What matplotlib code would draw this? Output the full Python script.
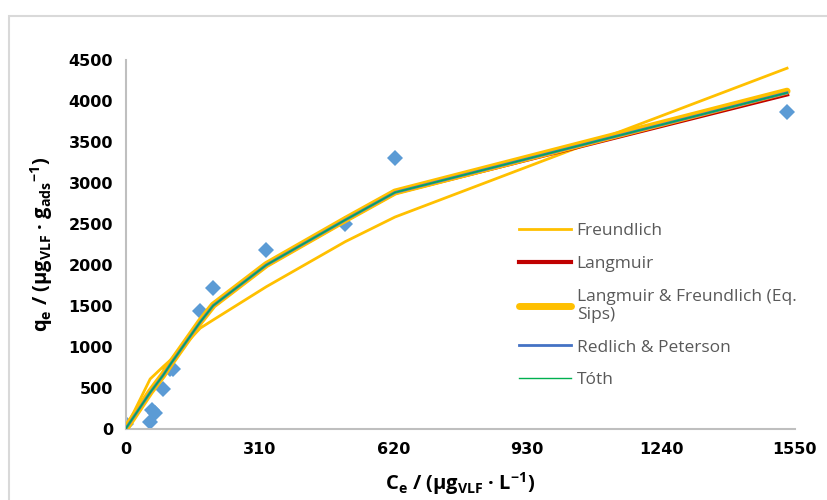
import numpy as np
import matplotlib.pyplot as plt
from matplotlib.patches import Rectangle

plt.rcParams['font.family'] = ['Open Sans', 'DejaVu Sans']
plt.rcParams['mathtext.default'] = 'regular'

# experimental points
ce_exp = [0, 57, 61, 68, 87, 103, 110, 173, 203, 326, 509, 624, 1532]
qe_exp = [60, 85, 230, 190, 490, 735, 735, 1440, 1720, 2180, 2500, 3300, 3860]

# model curves
ce_fit = [0, 57, 87, 106, 173, 203, 326, 509, 624, 1532]
q_freundlich = [0, 610, 760, 850, 1230, 1330, 1735, 2285, 2585, 4400]
q_langmuir = [0, 440, 650, 800, 1300, 1500, 1995, 2545, 2880, 4080]
q_sips = [0, 450, 660, 810, 1310, 1510, 2005, 2555, 2890, 4120]
q_redlich = [0, 445, 655, 805, 1305, 1505, 2000, 2550, 2885, 4100]
q_toth = [0, 445, 655, 805, 1305, 1505, 2000, 2550, 2885, 4100]

fig = plt.figure(figsize=(8.27, 5.0), dpi=100, facecolor='w')
ax = fig.add_axes([0.1518, 0.142, 0.8093, 0.738])

# chart-area border
fig.patches.append(Rectangle((9/827, -0.2), 1.2, 1.2 - 16/500,
                             transform=fig.transFigure, fill=False,
                             edgecolor='#d9d9d9', linewidth=1.5))

ax.plot(ce_exp, qe_exp, 'D', color='#5b9bd5', markersize=8, markeredgewidth=0, zorder=2)
ax.plot(ce_fit, q_freundlich, color='#ffc000', lw=2, label='Freundlich', zorder=3)
ax.plot(ce_fit, q_langmuir, color='#c00000', lw=3, label='Langmuir', zorder=3)
ax.plot(ce_fit, q_sips, color='#ffc000', lw=5, solid_capstyle='round',
        label='Langmuir & Freundlich (Eq.\nSips)', zorder=4)
ax.plot(ce_fit, q_redlich, color='#4472c4', lw=2, label='Redlich & Peterson', zorder=5)
ax.plot(ce_fit, q_toth, color='#00b050', lw=1, label='Tóth', zorder=6)

ax.set_xlim(0, 1550)
ax.set_ylim(0, 4500)
ax.set_xticks(np.arange(0, 1551, 310))
ax.set_yticks(np.arange(0, 4501, 500))
ax.tick_params(length=0, labelsize=11.5, pad=9)
for lab in ax.get_xticklabels() + ax.get_yticklabels():
    lab.set_fontweight('bold')
    lab.set_family('DejaVu Sans')

for s in ['top', 'right']:
    ax.spines[s].set_visible(False)
for s in ['left', 'bottom']:
    ax.spines[s].set_color('#bfbfbf')
    ax.spines[s].set_linewidth(1.5)

ax.set_xlabel(r'C$_{e}$ / (μg$_{VLF}$ · L$^{-1}$)', fontsize=14.5, fontweight='bold', labelpad=10)
ax.set_ylabel(r'q$_{e}$ / (μg$_{VLF}$ · g$_{ads}$$^{-1}$)', fontsize=14.5, fontweight='bold', labelpad=10)

leg = ax.legend(loc='upper left', bbox_to_anchor=(0.565, 0.6), frameon=False,
                fontsize=12.5, handlelength=3.0, handletextpad=0.3, labelspacing=0.95)
for t in leg.get_texts():
    t.set_color('#595959')

plt.savefig('out.png', dpi=100)
